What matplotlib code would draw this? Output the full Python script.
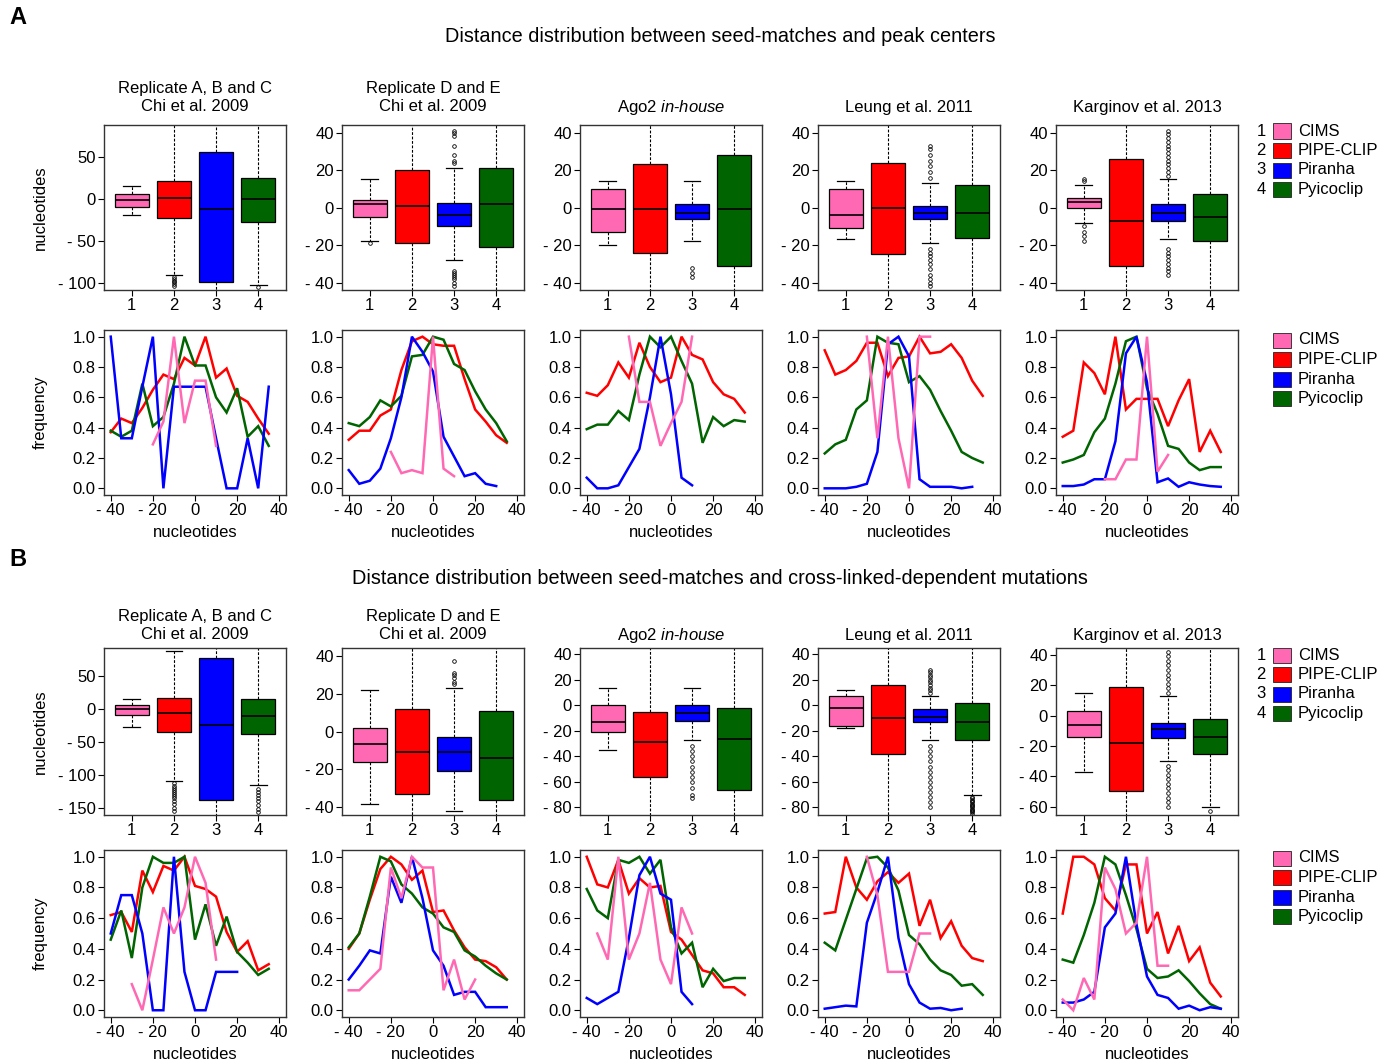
import numpy as np
import matplotlib
matplotlib.use("Agg")
import matplotlib.pyplot as plt
from matplotlib.patches import Rectangle
from matplotlib.ticker import FuncFormatter

plt.rcParams['font.family'] = ['Liberation Sans', 'DejaVu Sans']
plt.rcParams['mathtext.fontset'] = 'custom'
plt.rcParams['mathtext.rm'] = 'Liberation Sans'
plt.rcParams['mathtext.it'] = 'Liberation Sans:italic'

nan = np.nan

# ---------------- data ----------------
methods = ["CIMS", "PIPE-CLIP", "Piranha", "Pyicoclip"]
colors = ["#FF69B4", "#FF0000", "#0000FF", "#006400"]
box_labels = ["1", "2", "3", "4"]
panel_titles = ["Replicate A, B and C\nChi et al. 2009",
                "Replicate D and E\nChi et al. 2009",
                "Ago2 $\\it{in}$-$\\it{house}$",
                "Leung et al. 2011",
                "Karginov et al. 2013"]
title_A = "Distance distribution between seed-matches and peak centers"
title_B = "Distance distribution between seed-matches and cross-linked-dependent mutations"

dist = [-40, -35, -30, -25, -20, -15, -10, -5, 0, 5, 10, 15, 20, 25, 30, 35]

# Row A frequency curves (CIMS, PIPE-CLIP, Piranha, Pyicoclip)
A1_cims = [nan, nan, nan, nan, 0.29, 0.44, 1.0, 0.43, 0.71, 0.71, 0.28, nan, nan, nan, nan, nan]
A1_pipe = [0.37, 0.46, 0.43, 0.53, 0.65, 0.75, 0.72, 0.86, 0.81, 1.0, 0.73, 0.79, 0.61, 0.57, 0.46, 0.36]
A1_pira = [1.0, 0.33, 0.33, 0.67, 1.0, 0.0, 0.67, 0.67, 0.67, 0.67, 0.33, 0.0, 0.0, 0.33, 0.0, 0.67]
A1_pyco = [0.38, 0.34, 0.38, 0.69, 0.41, 0.47, 0.69, 1.0, 0.81, 0.81, 0.60, 0.50, 0.66, 0.34, 0.41, 0.28]

A2_cims = [nan, nan, nan, nan, 0.24, 0.10, 0.12, 0.10, 1.0, 0.13, 0.08, nan, nan, nan, nan, nan]
A2_pipe = [0.32, 0.38, 0.38, 0.48, 0.52, 0.78, 0.97, 1.0, 0.95, 0.94, 0.94, 0.72, 0.52, 0.44, 0.35, 0.30]
A2_pira = [0.12, 0.03, 0.05, 0.13, 0.33, 0.60, 1.0, 0.90, 0.77, 0.34, 0.21, 0.08, 0.10, 0.03, 0.015, nan]
A2_pyco = [0.43, 0.41, 0.47, 0.58, 0.54, 0.61, 0.87, 0.88, 1.0, 0.98, 0.82, 0.78, 0.64, 0.52, 0.43, 0.31]

A3_cims = [nan, nan, nan, nan, 1.0, 0.57, 0.57, 0.28, 0.43, 0.57, 1.0, nan, nan, nan, nan, nan]
A3_pipe = [0.63, 0.61, 0.68, 0.83, 0.73, 0.96, 0.80, 0.70, 0.73, 1.0, 0.88, 0.85, 0.70, 0.62, 0.59, 0.50]
A3_pira = [0.07, 0.0, 0.0, 0.02, 0.14, 0.26, 0.60, 1.0, 0.62, 0.07, 0.02, nan, nan, nan, nan, nan]
A3_pyco = [0.39, 0.42, 0.42, 0.51, 0.45, 0.75, 1.0, 0.93, 1.0, 0.84, 0.69, 0.30, 0.47, 0.41, 0.45, 0.44]

A4_cims = [nan, nan, nan, nan, 1.0, 0.33, 1.0, 0.33, 0.0, 1.0, 1.0, nan, nan, nan, nan, nan]
A4_pipe = [0.91, 0.75, 0.78, 0.84, 0.96, 0.96, 0.74, 0.86, 0.87, 1.0, 0.89, 0.90, 0.95, 0.86, 0.71, 0.61]
A4_pira = [0.0, 0.0, 0.0, 0.01, 0.03, 0.24, 0.95, 1.0, 0.87, 0.06, 0.01, 0.01, 0.01, 0.0, 0.01, nan]
A4_pyco = [0.23, 0.29, 0.32, 0.52, 0.58, 1.0, 0.96, 0.95, 0.70, 0.74, 0.65, 0.51, 0.38, 0.24, 0.20, 0.17]

A5_cims = [nan, nan, nan, nan, 0.06, 0.06, 0.19, 0.19, 1.0, 0.11, 0.22, nan, nan, nan, nan, nan]
A5_pipe = [0.34, 0.38, 0.83, 0.76, 0.62, 1.0, 0.52, 0.59, 0.59, 0.59, 0.41, 0.58, 0.72, 0.24, 0.38, 0.24]
A5_pira = [0.015, 0.015, 0.025, 0.06, 0.06, 0.31, 0.89, 1.0, 0.70, 0.04, 0.065, 0.01, 0.04, 0.025, 0.015, 0.01]
A5_pyco = [0.17, 0.19, 0.22, 0.37, 0.46, 0.69, 0.97, 1.0, 0.66, 0.49, 0.28, 0.26, 0.17, 0.12, 0.14, 0.14]

# Row B frequency curves
B1_cims = [nan, nan, 0.17, 0.0, 0.33, 0.67, 0.50, 0.67, 1.0, 0.83, 0.33, nan, nan, nan, nan, nan]
B1_pipe = [0.62, 0.64, 0.51, 0.91, 0.77, 0.94, 0.91, 1.0, 0.81, 0.79, 0.74, 0.51, 0.38, 0.45, 0.26, 0.30]
B1_pira = [0.50, 0.75, 0.75, 0.50, 0.0, 0.0, 1.0, 0.25, 0.0, 0.0, 0.25, 0.25, 0.25, nan, nan, nan]
B1_pyco = [0.46, 0.65, 0.34, 0.80, 1.0, 0.96, 0.96, 1.0, 0.46, 0.69, 0.42, 0.61, 0.38, 0.31, 0.23, 0.27]

B2_cims = [0.13, 0.13, 0.20, 0.27, 0.93, 0.73, 1.0, 0.93, 0.93, 0.13, 0.33, 0.07, 0.20, nan, nan, nan]
B2_pipe = [0.40, 0.50, 0.72, 0.92, 1.0, 0.95, 0.85, 0.91, 0.64, 0.65, 0.52, 0.41, 0.33, 0.32, 0.28, 0.20]
B2_pira = [0.20, 0.29, 0.39, 0.37, 0.87, 0.70, 1.0, 0.73, 0.39, 0.29, 0.10, 0.12, 0.12, 0.02, 0.02, 0.02]
B2_pyco = [0.41, 0.50, 0.74, 1.0, 0.97, 0.82, 0.76, 0.67, 0.63, 0.54, 0.51, 0.39, 0.35, 0.29, 0.24, 0.20]

B3_cims = [nan, 0.50, 0.33, 1.0, 0.33, 0.50, 0.83, 0.33, 0.17, 0.67, 0.50, nan, nan, nan, nan, nan]
B3_pipe = [1.0, 0.82, 0.80, 0.98, 0.76, 0.86, 0.80, 0.81, 0.51, 0.46, 0.36, 0.26, 0.24, 0.15, 0.15, 0.10]
B3_pira = [0.08, 0.04, 0.08, 0.12, 0.47, 0.88, 1.0, 0.76, 0.72, 0.12, 0.04, nan, nan, nan, nan, nan]
B3_pyco = [0.79, 0.65, 0.60, 0.98, 0.96, 1.0, 0.89, 0.98, 0.54, 0.37, 0.44, 0.15, 0.27, 0.19, 0.21, 0.21]

B4_cims = [nan, nan, nan, nan, 1.0, 0.75, 0.25, 0.25, 0.25, 0.50, 0.50, nan, nan, nan, nan, nan]
B4_pipe = [0.63, 0.64, 1.0, 0.80, 0.72, 0.84, 0.90, 0.83, 0.89, 0.55, 0.72, 0.47, 0.58, 0.42, 0.34, 0.32]
B4_pira = [0.01, 0.02, 0.03, 0.025, 0.57, 0.77, 1.0, 0.47, 0.17, 0.05, 0.01, 0.015, 0.0, 0.01, nan, nan]
B4_pyco = [0.44, 0.39, 0.59, 0.79, 0.99, 1.0, 0.93, 0.78, 0.49, 0.43, 0.33, 0.26, 0.23, 0.16, 0.17, 0.10]

B5_cims = [0.07, 0.0, 0.21, 0.07, 0.93, 0.79, 0.50, 0.57, 1.0, 0.29, 0.29, nan, nan, nan, nan, nan]
B5_pipe = [0.63, 1.0, 1.0, 0.95, 0.73, 0.65, 0.95, 0.95, 0.50, 0.64, 0.37, 0.55, 0.32, 0.41, 0.18, 0.09]
B5_pira = [0.05, 0.05, 0.07, 0.12, 0.54, 0.63, 1.0, 0.56, 0.22, 0.10, 0.08, 0.01, 0.03, 0.0, 0.02, 0.01]
B5_pyco = [0.33, 0.31, 0.49, 0.70, 1.0, 0.95, 0.75, 0.53, 0.27, 0.21, 0.22, 0.26, 0.19, 0.11, 0.04, 0.01]

freqA = [[A1_cims, A1_pipe, A1_pira, A1_pyco], [A2_cims, A2_pipe, A2_pira, A2_pyco],
         [A3_cims, A3_pipe, A3_pira, A3_pyco], [A4_cims, A4_pipe, A4_pira, A4_pyco],
         [A5_cims, A5_pipe, A5_pira, A5_pyco]]
freqB = [[B1_cims, B1_pipe, B1_pira, B1_pyco], [B2_cims, B2_pipe, B2_pira, B2_pyco],
         [B3_cims, B3_pipe, B3_pira, B3_pyco], [B4_cims, B4_pipe, B4_pira, B4_pyco],
         [B5_cims, B5_pipe, B5_pira, B5_pyco]]

# Box statistics, row A (per panel: CIMS, PIPE-CLIP, Piranha, Pyicoclip)
boxA_q1 = [[-9, -23, -98, -27], [-5, -19, -10, -21], [-13, -24, -6, -31], [-11, -25, -6, -16], [0, -31, -7, -18]]
boxA_med = [[-1, 1, -12, 0], [2, 1, -4, 2], [-1, -1, -3, -1], [-4, 0, -3, -3], [3, -7, -3, -5]]
boxA_q3 = [[6, 22, 56, 25], [4, 20, 2.5, 21], [10, 23, 2, 28], [10, 24, 1, 12], [5, 26, 2, 7]]
boxA_lo = [[-19, -90, -250, -102], [-18, -100, -28, -100], [-20, -100, -18, -100], [-17, -100, -19, -100], [-8, -120, -17, -100]]
boxA_hi = [[15, 89, 250, 103], [15, 100, 21, 100], [14, 100, 14, 100], [14, 100, 13, 100], [12, 100, 15, 100]]
boxA_fl = [
    [[], [-93, -95, -97, -99, -101, -103], [], [-105]],
    [[-19], [], [24, 25, 28, 33, 38, 40, 41, -34, -35, -36, -37, -38, -40, -42], []],
    [[], [], [-32, -35, -37], []],
    [[], [], [16, 19, 22, 25, 28, 31, 33, -22, -24, -26, -28, -30, -33, -36, -38, -40, -42], []],
    [[14, 15, -10, -13, -15, -18], [],
     [17, 19, 21, 23, 25, 27, 29, 31, 33, 35, 37, 39, 41, -22, -24, -26, -28, -30, -32, -34, -36], []],
]
boxA_ylim = [(-108, 88), (-44, 44), (-44, 44), (-44, 44), (-44, 44)]
boxA_ticks = [[-100, -50, 0, 50], [-40, -20, 0, 20, 40], [-40, -20, 0, 20, 40],
              [-40, -20, 0, 20, 40], [-40, -20, 0, 20, 40]]

# Box statistics, row B
boxB_q1 = [[-9, -35, -138, -39], [-16, -33, -21, -36], [-21, -56, -12, -66], [-16, -38, -13, -27], [-14, -50, -15, -25]]
boxB_med = [[0, -7, -24, -11], [-6.5, -11, -11, -14], [-13, -29, -6, -26], [-2, -10, -9, -13], [-6, -18, -9, -14]]
boxB_q3 = [[5, 16, 77, 14], [2, 12, -3, 11], [0, -5, 0, -2], [7, 16, -3, 2], [3, 19, -5, -2]]
boxB_lo = [[-27, -110, -300, -115], [-38, -100, -42, -100], [-35, -200, -27, -200], [-18, -200, -27, -70], [-37, -200, -30, -60]]
boxB_hi = [[15, 87, 300, 100], [22, 100, 23, 100], [14, 100, 14, 100], [12, 100, 7, 100], [15, 100, 13, 100]]
boxB_fl = [
    [[], [-113, -117, -120, -123, -126, -129, -132, -136, -140, -145, -150, -155], [],
     [-122, -126, -130, -135, -140, -146, -152, -156]],
    [[], [], [25, 26, 28, 30, 31, 37], []],
    [[], [], [-32, -36, -40, -44, -48, -52, -56, -60, -65, -70, -73], []],
    [[], [], [10, 12, 14, 16, 18, 20, 22, 24, 26, 28, -32, -36, -40, -44, -48, -52, -56, -60, -64, -68, -72, -76, -80],
     [-72, -73, -74, -75, -76, -77, -78, -79, -80, -81, -82, -83, -84, -85]],
    [[], [], [15, 18, 21, 24, 27, 30, 33, 36, 39, 42, -33, -36, -39, -42, -45, -48, -51, -54, -57, -60], [-63]],
]
boxB_ylim = [(-161, 92), (-44, 44), (-86, 45), (-86, 45), (-65.5, 44.5)]
boxB_ticks = [[-150, -100, -50, 0, 50], [-40, -20, 0, 20, 40], [-80, -60, -40, -20, 0, 20, 40],
              [-80, -60, -40, -20, 0, 20, 40], [-60, -40, -20, 0, 20, 40]]

freq_ticks = [0.0, 0.2, 0.4, 0.6, 0.8, 1.0]
dist_ticks = [-40, -20, 0, 20, 40]

# ---------------- layout ----------------
W, H = 1386, 1063
fig = plt.figure(figsize=(W / 100, H / 100), dpi=100)
FS = 12


def ax_at(l, t, w, h):
    return fig.add_axes([l / W, 1 - (t + h) / H, w / W, h / H])


def r_fmt(v, pos=None):
    if v < 0:
        return "- %g" % abs(v)
    return "%g" % v


FRAME = "#333333"


def style(ax):
    for s in ax.spines.values():
        s.set_color(FRAME)
        s.set_linewidth(1.0)
    ax.tick_params(direction="out", length=4, width=0.8, labelsize=FS, pad=2, colors="black")


def draw_box(ax, q1, med, q3, lo, hi, fl, ylim, yticks):
    stats = [dict(med=m, q1=a, q3=b, whislo=l, whishi=h, fliers=f)
             for a, m, b, l, h, f in zip(q1, med, q3, lo, hi, fl)]
    bp = ax.bxp(stats, positions=[1, 2, 3, 4], widths=0.8, patch_artist=True, capwidths=0.4,
                boxprops=dict(edgecolor="black", linewidth=0.9),
                whiskerprops=dict(color="black", linewidth=0.8, linestyle=(0, (2.5, 1.5))),
                capprops=dict(color="black", linewidth=0.9),
                medianprops=dict(color="black", linewidth=1.2),
                flierprops=dict(marker="o", markersize=2.6, markerfacecolor="none",
                                markeredgecolor="black", markeredgewidth=0.6))
    for patch, c in zip(bp["boxes"], colors):
        patch.set_facecolor(c)
    ax.set_xlim(0.34, 4.66)
    ax.set_ylim(*ylim)
    ax.set_xticks([1, 2, 3, 4])
    ax.set_xticklabels(box_labels)
    ax.set_yticks(yticks)
    ax.yaxis.set_major_formatter(FuncFormatter(r_fmt))
    style(ax)


def draw_freq(ax, series):
    order = [1, 3, 2, 0]
    for k in order:
        ax.plot(dist, series[k], color=colors[k], linewidth=1.8, solid_joinstyle="miter")
    ax.set_xlim(-43.2, 43.2)
    ax.set_ylim(-0.044, 1.044)
    ax.set_xticks(dist_ticks)
    ax.xaxis.set_major_formatter(FuncFormatter(r_fmt))
    ax.set_yticks(freq_ticks)
    ax.set_yticklabels(["%.1f" % v for v in freq_ticks])
    ax.set_xlabel("nucleotides", fontsize=FS, labelpad=5)
    style(ax)


col_left = [104, 342, 580, 818, 1056]
pw = 182

rows = [
    dict(box_top=125, box_h=165, line_top=330, line_h=165, title_y=36, sub_y=97.5, letter_y=18,
         q1=boxA_q1, med=boxA_med, q3=boxA_q3, lo=boxA_lo, hi=boxA_hi, fl=boxA_fl,
         ylim=boxA_ylim, ticks=boxA_ticks, freq=freqA, title=title_A, letter="A",
         leg_box_y=131, leg_line_y=340),
    dict(box_top=648, box_h=167, line_top=850, line_h=167, title_y=579, sub_y=625.5, letter_y=560,
         q1=boxB_q1, med=boxB_med, q3=boxB_q3, lo=boxB_lo, hi=boxB_hi, fl=boxB_fl,
         ylim=boxB_ylim, ticks=boxB_ticks, freq=freqB, title=title_B, letter="B",
         leg_box_y=655, leg_line_y=858),
]

for r in rows:
    fig.text(18 / W, 1 - r["letter_y"] / H, r["letter"], fontsize=17, fontweight="bold",
             ha="center", va="center")
    fig.text(720 / W, 1 - r["title_y"] / H, r["title"], fontsize=14.3, ha="center", va="center")
    for i in range(5):
        axb = ax_at(col_left[i], r["box_top"], pw, r["box_h"])
        draw_box(axb, r["q1"][i], r["med"][i], r["q3"][i], r["lo"][i], r["hi"][i], r["fl"][i],
                 r["ylim"][i], r["ticks"][i])
        t = panel_titles[i]
        ty = r["sub_y"] if "\n" in t else r["sub_y"] + 10
        fig.text((col_left[i] + pw / 2) / W, 1 - ty / H, t, fontsize=FS, ha="center", va="center",
                 linespacing=1.3)
        axl = ax_at(col_left[i], r["line_top"], pw, r["line_h"])
        draw_freq(axl, r["freq"][i])
        if i == 0:
            axb.set_ylabel("nucleotides", fontsize=FS)
            axl.set_ylabel("frequency", fontsize=FS)
            axb.yaxis.set_label_coords(-0.31, 0.5)
            axl.yaxis.set_label_coords(-0.31, 0.5)
    # legends
    for k in range(4):
        yb = r["leg_box_y"] + k * 19.5
        fig.text(1261 / W, 1 - yb / H, box_labels[k], fontsize=FS, ha="center", va="center")
        fig.patches.append(Rectangle((1273 / W, 1 - (yb + 7.5) / H), 18 / W, 15 / H,
                                     transform=fig.transFigure, facecolor=colors[k],
                                     edgecolor="#222222", linewidth=0.6))
        fig.text(1298 / W, 1 - yb / H, methods[k], fontsize=FS, ha="left", va="center")
        yl = r["leg_line_y"] + k * 19.5
        fig.patches.append(Rectangle((1273 / W, 1 - (yl + 7.5) / H), 18 / W, 15 / H,
                                     transform=fig.transFigure, facecolor=colors[k],
                                     edgecolor="#222222", linewidth=0.6))
        fig.text(1298 / W, 1 - yl / H, methods[k], fontsize=FS, ha="left", va="center")

fig.savefig("out.png", dpi=100)
